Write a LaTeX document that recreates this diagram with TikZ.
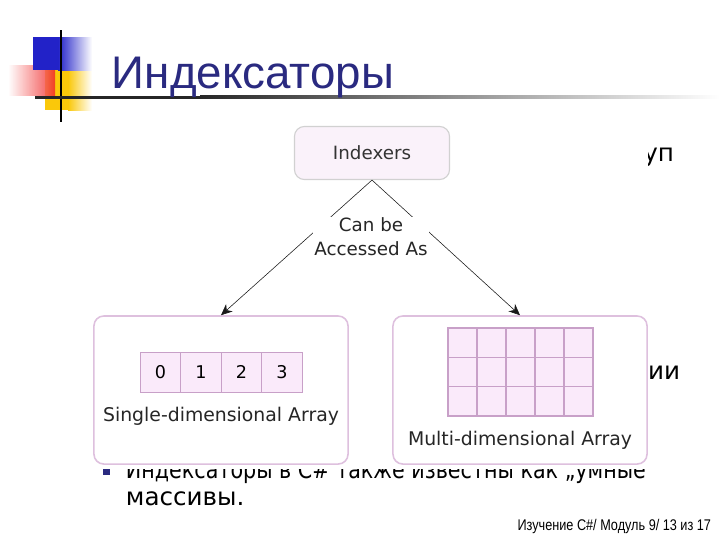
\documentclass[tikz,border=0pt]{standalone}
\usepackage{fontspec}
\setmainfont{DejaVu Sans}
\newfontfamily\titlefont{Liberation Sans}
\newfontfamily\condfont[FakeStretch=0.84]{DejaVu Sans}
\newfontfamily\footfont[FakeStretch=0.82]{Liberation Sans}
\usetikzlibrary{arrows.meta,positioning}
\definecolor{slidenavy}{RGB}{42,42,128}
\definecolor{logoblue}{RGB}{34,34,200}
\definecolor{logored}{RGB}{240,40,40}
\definecolor{logoyellow}{RGB}{250,200,10}
\definecolor{boxfill}{RGB}{250,242,250}
\definecolor{boxline}{RGB}{222,192,222}
\definecolor{cellfill}{RGB}{250,234,250}
\definecolor{cellline}{RGB}{200,160,200}

\begin{document}
\begin{tikzpicture}[x=0.025cm,y=-0.025cm,>={Stealth[length=8pt,width=7pt]},
  topbox/.style={draw=black!18,line width=0.8pt,fill=boxfill,rounded corners=7pt,minimum width=3.875cm,minimum height=1.325cm,font=\fontsize{13}{15}\selectfont,text=black!80},
  bigbox/.style={draw=boxline,line width=1.1pt,fill=white,rounded corners=7pt,minimum width=6.35cm,minimum height=3.7cm},
  cell/.style={draw=cellline,line width=0.8pt,fill=cellfill,minimum width=1.01cm,minimum height=1.02cm,font=\fontsize{12.5}{13}\selectfont,inner sep=0pt,text height=9pt,text depth=0pt},
  gcell/.style={draw=cellline,line width=0.8pt,fill=cellfill,minimum width=0.725cm,minimum height=0.733cm,inner sep=0pt},
  caption/.style={font=\fontsize{13.4}{15.5}\selectfont,text=black!85},
  body/.style={font=\fontsize{17.5}{20}\selectfont,anchor=base west}]

  \useasboundingbox (0,0) rectangle (720,540);

  % logo
  \fill[logoyellow] (45,70) rectangle (68,110);
  \shade[left color=logoyellow,right color=white] (68,70) rectangle (92,110);
  \shade[left color=white,right color=logored,opacity=.85] (8,65) rectangle (55,95);
  \fill[logoblue] (33,37) rectangle (58,70);
  \shade[left color=logoblue,right color=white] (58,37) rectangle (92,70);
  \draw[line width=2pt] (61,30) -- (61,122);
  \fill[black!85] (35,95.5) rectangle (200,98.5);
  \shade[left color=black!85,right color=white] (200,95.5) rectangle (720,98.5);

  \node[anchor=base west,text=slidenavy,font=\titlefont\fontsize{32.5}{34}\selectfont] (title) at (107,88) {Индексаторы};

  % slide text behind the picture
  \fill[slidenavy] (103,469) rectangle (110,475);
  \node[body,font=\condfont\fontsize{17.5}{20}\selectfont] (line1) at (121,478) {Индексаторы в C\# также известны как „умные};
  \node[body] (line2) at (121,505) {массивы.};
  \node[body,anchor=base east] (frag1) at (679,161) {уп};
  \node[body,anchor=base east] (frag2) at (685,379) {ции};
  \node[anchor=base east,font=\footfont\fontsize{11}{12}\selectfont] (foot) at (716,530) {Изучение C\#/ Модуль 9/ 13 из 17};

  % picture background
  \fill[white] (88,118) rectangle (648,469);

  % diagram
  \node[topbox] (idx) at (372,153) {Indexers};
  \node[bigbox] (single) at (221,390) {};
  \node[bigbox] (multi) at (520,390) {};

  \foreach \i in {0,...,3}
    \node[cell] (c\i) at ({160.5+40.5*\i},372.5) {\i};
  \node[caption] (singlelabel) at (221,416) {Single-dimensional Array};

  \foreach \r in {0,1,2}
    \foreach \c in {0,...,4}
      \node[gcell] (g\r\c) at ({462.5+29*\c},{342.7+29.3*\r}) {};
  \node[caption] (multilabel) at (520,440) {Multi-dimensional Array};

  \draw[->,black!90] (idx.south) -- (single.north);
  \draw[->,black!90] (idx.south) -- (multi.north);
  \node[caption,align=center,fill=white,inner sep=1pt,font=\fontsize{13}{17}\selectfont] (access) at (371,237) {Can be\\Accessed As};

\end{tikzpicture}
\end{document}
